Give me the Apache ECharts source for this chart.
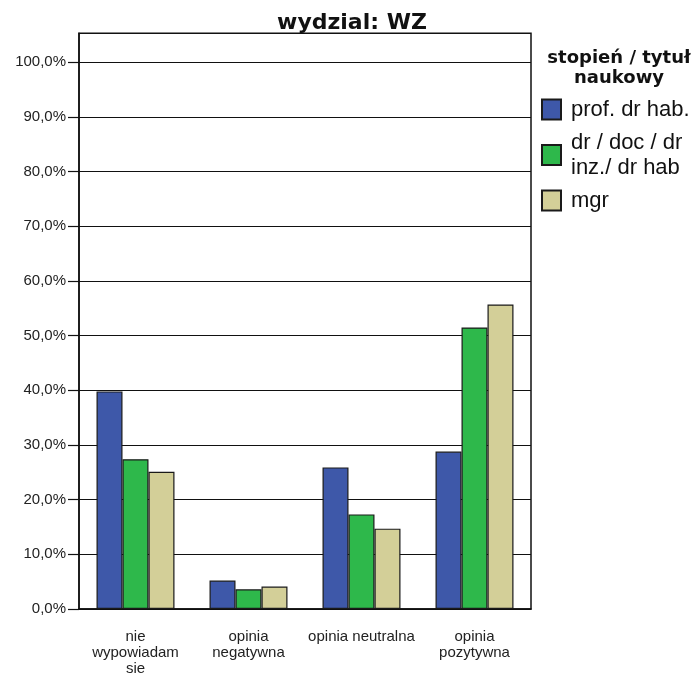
<!DOCTYPE html>
<html>
<head>
<meta charset="utf-8">
<script src="https://cdn.jsdelivr.net/npm/echarts@6/dist/echarts.min.js"></script>
<style>
html,body{margin:0;padding:0;background:#fff;}
#chart{width:695px;height:677px;}
</style>
</head>
<body>
<div id="chart"></div>
<script>
const categories = ['nie\nwypowiadam\nsie', 'opinia\nnegatywna', 'opinia neutralna', 'opinia\npozytywna'];
const seriesNames = ['prof. dr hab.', 'dr / doc / dr\ninz./ dr hab', 'mgr'];
const profValues = [39.8, 5.2, 25.9, 28.8];
const drValues = [27.4, 3.6, 17.3, 51.5];
const mgrValues = [25.1, 4.1, 14.7, 55.7];
const yTicks = [0, 10, 20, 30, 40, 50, 60, 70, 80, 90, 100];

const colors = ['#3e58a9', '#2eb84b', '#d3cf98'];
const seriesData = [profValues, drValues, mgrValues];

const chart = echarts.init(document.getElementById('chart'));
chart.setOption({
  animation: false,
  backgroundColor: '#fff',
  title: [
    {
      text: 'wydzial: WZ',
      left: 347, top: 7, textAlign: 'center',
      textStyle: {fontFamily: 'DejaVu Sans', fontWeight: 'bold', fontSize: 22, color: '#111'}
    },
    {
      text: 'stopień / tytuł\nnaukowy',
      left: 614, top: 43, textAlign: 'center',
      textStyle: {fontFamily: 'DejaVu Sans', fontWeight: 'bold', fontSize: 18, lineHeight: 20, color: '#111', align: 'center'}
    }
  ],
  legend: {
    orient: 'vertical',
    left: 541, top: 97, padding: 0,
    itemWidth: 19, itemHeight: 20, itemGap: 8,
    data: seriesNames,
    textStyle: {fontFamily: 'Liberation Sans', fontSize: 22, lineHeight: 25, color: '#111', padding: [0, 0, 0, 5]},
    icon: 'rect'
  },
  grid: {
    left: 79, right: 164, top: 33.3, bottom: 65.3,
    show: true, borderColor: '#111', borderWidth: 1.5, containLabel: false
  },
  xAxis: {
    type: 'category',
    data: categories,
    axisLine: {lineStyle: {color: '#111', width: 1.5}},
    axisTick: {alignWithLabel: true, length: 8, lineStyle: {color: '#111', width: 1.5}},
    axisLabel: {fontFamily: 'Liberation Sans', fontSize: 15, lineHeight: 16, color: '#222', margin: 20, interval: 0}
  },
  yAxis: {
    type: 'value',
    min: 0, max: 105.3, interval: 10,
    axisLine: {show: true, lineStyle: {color: '#111', width: 1.5}},
    axisTick: {show: true, length: 11, customValues: yTicks, lineStyle: {color: '#111', width: 1.2}},
    splitLine: {show: true, lineStyle: {color: '#111', width: 1.2}},
    axisLabel: {
      fontFamily: 'Liberation Sans', fontSize: 15, color: '#222', margin: 13,
      customValues: yTicks,
      formatter: function (v) { return yTicks.indexOf(v) >= 0 ? v.toFixed(1).replace('.', ',') + '%' : ''; }
    }
  },
  series: seriesNames.map((name, i) => ({
    name: name,
    type: 'bar',
    data: seriesData[i],
    barGap: '0%',
    barCategoryGap: '31%',
    itemStyle: {color: colors[i], borderColor: '#1a1a1a', borderWidth: 1.2}
  }))
});
</script>
</body>
</html>
